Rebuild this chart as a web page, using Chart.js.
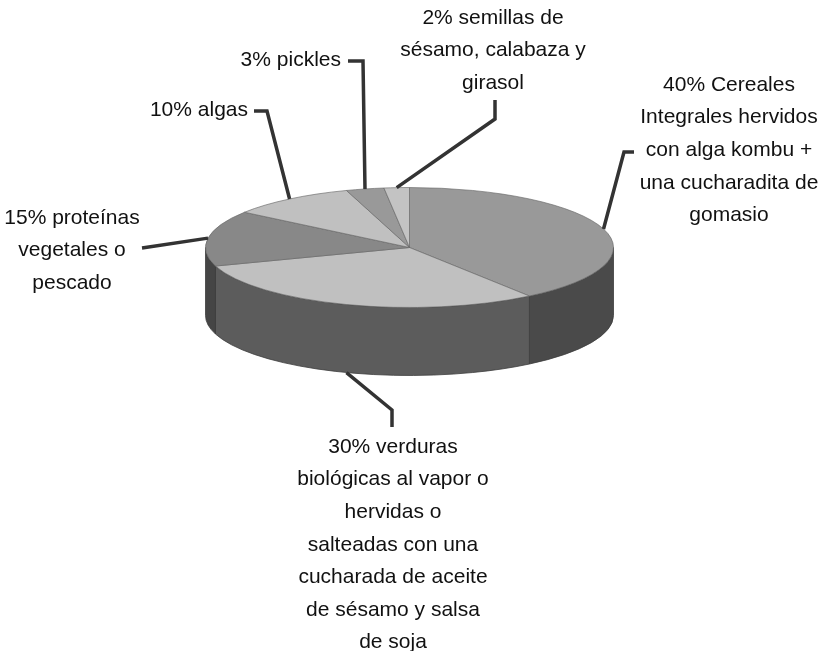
<!DOCTYPE html>
<html>
<head>
<meta charset="utf-8">
<script src="https://cdn.jsdelivr.net/npm/chart.js@4.4.0/dist/chart.umd.min.js"></script>
<style>
  html, body { margin: 0; padding: 0; background: #fff; }
  #wrap { width: 827px; height: 651px; }
</style>
</head>
<body>
<div id="wrap"><canvas id="pie"></canvas></div>
<script>
/*data of the chart*/
const categories = ['Cereales integrales', 'Verduras', 'Proteínas', 'Algas', 'Pickles', 'Semillas'];
const percentages = [40, 30, 15, 10, 3, 2];
const labelTexts = [
  ['40% Cereales', 'Integrales hervidos', 'con alga kombu +', 'una cucharadita de', 'gomasio'],
  ['30% verduras', 'biológicas al vapor o', 'hervidas o', 'salteadas con una', 'cucharada de aceite', 'de sésamo y salsa', 'de soja'],
  ['15% proteínas', 'vegetales o', 'pescado'],
  ['10% algas'],
  ['3% pickles'],
  ['2% semillas de', 'sésamo, calabaza y', 'girasol']
];
const topColors = ['#999999', '#c0c0c0', '#888888', '#c0c0c0', '#999999', '#c3c3c3'];
const sideColors = ['#4a4a4a', '#5c5c5c', '#454545', '#5c5c5c', '#4a4a4a', '#5c5c5c'];

/*where the label text sits and the bends of its leader line*/
const labelLayout = [
  { x: 729, y: 85, align: 'center', bends: [[624, 152], [634, 152]] },
  { x: 393, y: 447, align: 'center', bends: [[392, 410], [392, 427]] },
  { x: 72, y: 218, align: 'center', bends: [[142, 248]] },
  { x: 248, y: 110, align: 'right', bends: [[267, 111], [254, 111]] },
  { x: 341, y: 60, align: 'right', bends: [[363, 61], [348, 61]] },
  { x: 493, y: 18, align: 'center', bends: [[495, 119], [495, 100]] }
];

const TILT = 0.294;   // flattening of the pie
const DEPTH = 68;     // height of the side wall
const LINE_H = 32.6;

function wall(ctx, cx, cy, r, ry, a, b, color) {
  ctx.beginPath();
  ctx.ellipse(cx, cy, r, ry, 0, a, b);
  ctx.ellipse(cx, cy + DEPTH, r, ry, 0, b, a, true);
  ctx.closePath();
  ctx.fillStyle = color;
  ctx.fill();
  ctx.strokeStyle = '#3c3c3c';
  ctx.lineWidth = 0.8;
  ctx.stroke();
}

/*plugin that gives the pie its 3D look and draws the labels*/
const pie3d = {
  id: 'pie3d',
  beforeDatasetsDraw(chart) {
    const ctx = chart.ctx;
    const arcs = chart.getDatasetMeta(0).data;
    const cx = arcs[0].x, cy = arcs[0].y, r = arcs[0].outerRadius, ry = r * TILT;
    arcs.forEach((arc, i) => {
      const a = Math.max(arc.startAngle, 0);
      const b = Math.min(arc.endAngle, Math.PI);
      if (b > a) wall(ctx, cx, cy, r, ry, a, b, sideColors[i]);
    });
    ctx.save();
    ctx.translate(cx, cy);
    ctx.scale(1, TILT);
    ctx.translate(-cx, -cy);
  },
  afterDatasetsDraw(chart) {
    const ctx = chart.ctx;
    ctx.restore();
    const arcs = chart.getDatasetMeta(0).data;
    const cx = arcs[0].x, cy = arcs[0].y, r = arcs[0].outerRadius, ry = r * TILT;

    ctx.save();
    arcs.forEach((arc, i) => {
      const lay = labelLayout[i];
      const mid = (arc.startAngle + arc.endAngle) / 2;
      let sx = cx + r * Math.cos(mid);
      let sy = cy + ry * Math.sin(mid);
      if (Math.sin(mid) > 0) sy += DEPTH;

      /*leader line*/
      ctx.beginPath();
      ctx.moveTo(sx, sy);
      lay.bends.forEach(p => ctx.lineTo(p[0], p[1]));
      ctx.strokeStyle = '#333333';
      ctx.lineWidth = 3.5;
      ctx.lineJoin = 'miter';
      ctx.stroke();

      /*label text*/
      ctx.fillStyle = '#111111';
      ctx.font = '21px "Liberation Sans", Arial, sans-serif';
      ctx.textAlign = lay.align;
      ctx.textBaseline = 'middle';
      labelTexts[i].forEach((line, k) => ctx.fillText(line, lay.x, lay.y + k * LINE_H));
    });
    ctx.restore();
  }
};

window.onload = function () {
  const ctx = document.getElementById('pie').getContext('2d');

  new Chart(ctx, {
    type: 'pie',
    data: {
      labels: categories,
      datasets: [{
        data: percentages,
        backgroundColor: topColors,
        borderColor: '#666666',
        borderWidth: 1,
        clip: false
      }]
    },
    options: {
      responsive: true,
      maintainAspectRatio: false,
      animation: false,
      events: [],
      layout: {
        padding: { left: 205, right: 213, top: 43, bottom: 199 }
      },
      plugins: {
        legend: { display: false },
        tooltip: { enabled: false }
      }
    },
    plugins: [pie3d]
  });
};
</script>
</body>
</html>
